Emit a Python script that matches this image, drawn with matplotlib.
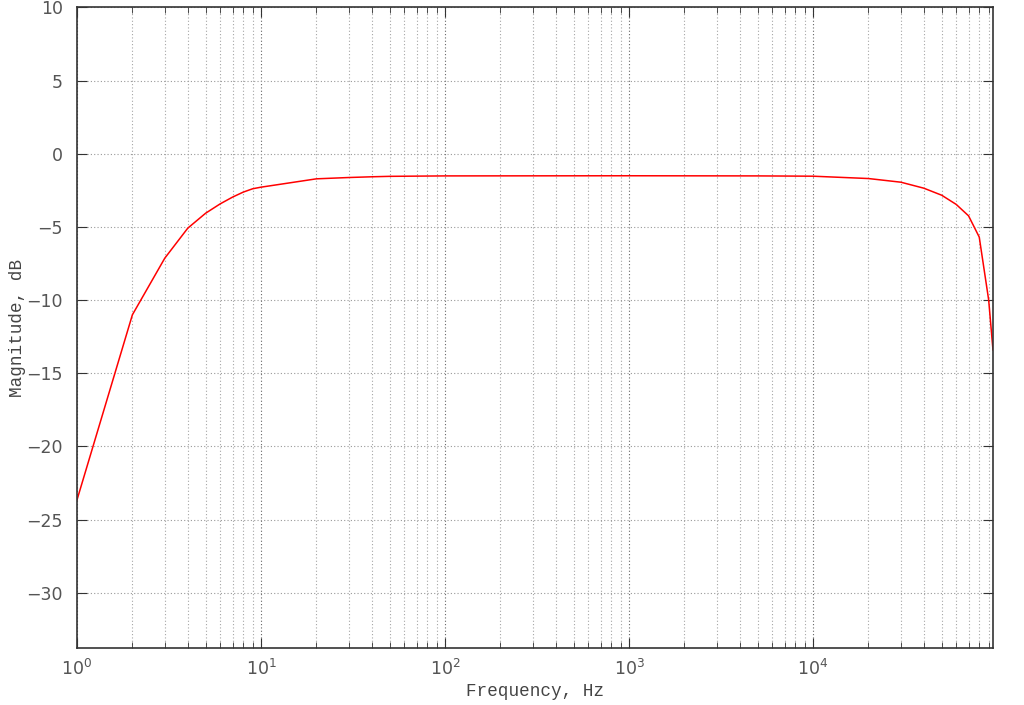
import numpy as np
import matplotlib
matplotlib.use('Agg')
import matplotlib.pyplot as plt
from matplotlib.ticker import LogLocator, MultipleLocator, NullFormatter

# frequency response
freq = [1, 2, 3, 4, 5, 6, 7, 8, 9, 10,
        20, 30, 40, 50, 100, 1000, 5000, 10000,
        20000, 30000, 40000, 50000, 60000, 70000, 80000, 90000, 95000]
mag_db = [-23.65, -11.0, -7.13, -5.08, -4.06, -3.42, -2.96, -2.62, -2.39, -2.28,
          -1.71, -1.62, -1.57, -1.54, -1.51, -1.50, -1.51, -1.53,
          -1.69, -1.94, -2.35, -2.83, -3.46, -4.24, -5.69, -9.98, -13.4]

fig = plt.figure(figsize=(10.24, 7.05), dpi=100)
ax = fig.add_axes([0.0752, 0.0813, 0.8945, 0.9081])

ax.plot(freq, mag_db, color='#ff0000', lw=1.1)

ax.set_xscale('log')
ax.set_xlim(1, 95000)
ax.set_ylim(-33.75, 10)

ax.xaxis.set_major_locator(LogLocator(base=10, numticks=10))
ax.xaxis.set_minor_locator(LogLocator(base=10, subs=np.arange(2, 10), numticks=20))
ax.xaxis.set_minor_formatter(NullFormatter())
ax.yaxis.set_major_locator(MultipleLocator(5))

ax.grid(which='major', axis='x', linestyle=(0, (1, 2)), color='0.4', lw=0.8)
ax.grid(which='major', axis='y', linestyle=(0, (1, 2)), color='0.6', lw=0.8)
ax.grid(which='minor', axis='x', linestyle=(0, (1, 2)), color='0.65', lw=0.8)

ax.tick_params(which='both', direction='in', top=True, right=True,
               colors='#333333', labelcolor='#555555', labelsize=12.5)
ax.tick_params(which='major', length=7)
ax.tick_params(which='minor', length=4)
ax.tick_params(axis='x', pad=8)
ax.tick_params(axis='y', pad=10)

for s in ax.spines.values():
    s.set_color('#333333')
    s.set_linewidth(1.2)

ax.set_xlabel('Frequency, Hz', family='Liberation Mono', fontsize=12.7, color='#444444', va='center')
ax.set_ylabel('Magnitude, dB', family='Liberation Mono', fontsize=12.7, color='#444444', va='center')
ax.xaxis.set_label_coords(0.5, -0.069)
ax.yaxis.set_label_coords(-0.0655, 0.5)

fig.savefig('out.png', dpi=100)
